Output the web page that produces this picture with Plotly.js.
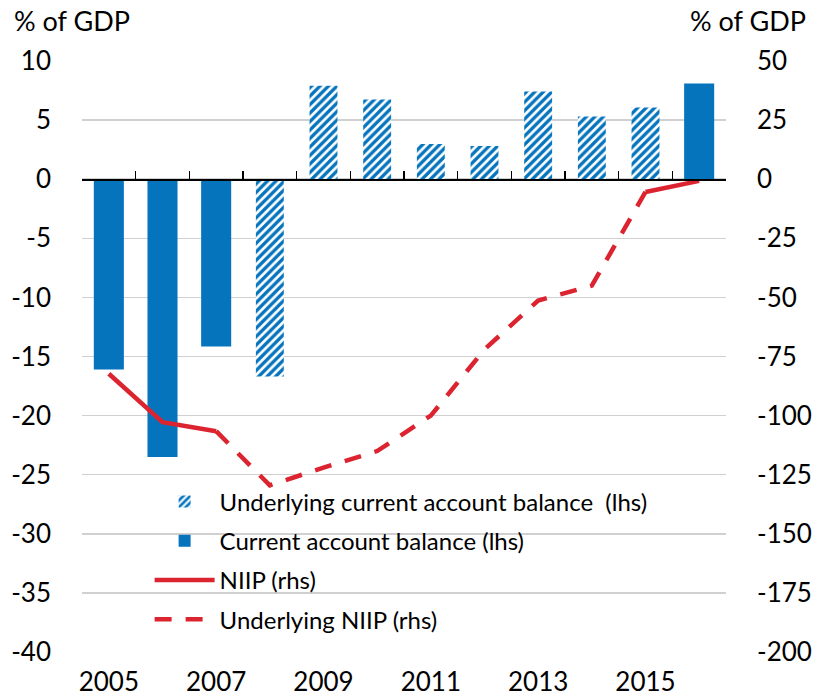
<!DOCTYPE html>
<html>
<head>
<meta charset="utf-8">
<script src="https://cdn.plot.ly/plotly-3.0.1.min.js"></script>
<style>
  html, body { margin: 0; padding: 0; background: #ffffff; }
  #chart { width: 817px; height: 698px; }
</style>
</head>
<body>
<div id="chart"></div>
<script>
// ---- data ----
const years = [2005, 2006, 2007, 2008, 2009, 2010, 2011, 2012, 2013, 2014, 2015, 2016];
const currentAccount = [-16.1, -23.5, -14.15, null, null, null, null, null, null, null, null, 8.1];
const underlyingCurrentAccount = [null, null, null, -16.7, 7.9, 6.75, 2.97, 2.8, 7.43, 5.3, 6.07, null];
const niip = [-82.3, -102.8, -106.6, null, null, null, null, null, null, null, -5.4, -0.7];
const underlyingNiip = [null, null, -106.6, -129.5, -122, -115, -100, -72, -51.3, -45, -5.4, null];
const xTickVals = [2005, 2007, 2009, 2011, 2013, 2015];
const xTickLabels = ['2005', '2007', '2009', '2011', '2013', '2015'];
const leftTickVals = [10, 5, 0, -5, -10, -15, -20, -25, -30, -35, -40];
const leftTickLabels = ['10', '5', '0', '-5', '-10', '-15', '-20', '-25', '-30', '-35', '-40'];
const rightTickVals = [50, 25, 0, -25, -50, -75, -100, -125, -150, -175, -200];
const rightTickLabels = ['50', '25', '0', '-25', '-50', '-75', '-100', '-125', '-150', '-175', '-200'];
const categoryBoundaries = [2004.5, 2005.5, 2006.5, 2007.5, 2008.5, 2009.5, 2010.5, 2011.5, 2012.5, 2013.5, 2014.5, 2015.5, 2016.5];
const names = {
  ucab: 'Underlying current account balance  (lhs)',
  cab: 'Current account balance (lhs)',
  niip: 'NIIP (rhs)',
  uniip: 'Underlying NIIP (rhs)'
};

const BLUE = '#0574BD';
const RED = '#DC2430';
const FONT = 'Lato, "Open Sans", sans-serif';

const traces = [
  {
    type: 'bar', name: names.ucab, x: years, y: underlyingCurrentAccount,
    width: 0.52,
    marker: { color: BLUE, line: { width: 0 },
      pattern: { shape: '/', fgcolor: BLUE, bgcolor: '#ffffff', size: 6, solidity: 0.55, fillmode: 'replace' } },
    legendgroup: 'a', xaxis: 'x', yaxis: 'y'
  },
  {
    type: 'bar', name: names.cab, x: years, y: currentAccount,
    width: 0.56,
    marker: { color: BLUE, line: { width: 0 } },
    legendgroup: 'b', xaxis: 'x', yaxis: 'y'
  },
  {
    type: 'scatter', mode: 'lines', name: names.niip, x: years, y: niip,
    line: { color: RED, width: 4.5 },
    connectgaps: false, legendgroup: 'c', xaxis: 'x', yaxis: 'y2'
  },
  {
    type: 'scatter', mode: 'lines', name: names.uniip, x: years, y: underlyingNiip,
    line: { color: RED, width: 4.5, dash: '17px,14px' },
    connectgaps: false, legendgroup: 'd', xaxis: 'x', yaxis: 'y2'
  },
  {
    // carrier for the zero-crossing category axis (tick marks at boundaries)
    type: 'scatter', mode: 'markers', x: [years[0]], y: [null],
    showlegend: false, hoverinfo: 'skip', xaxis: 'x2', yaxis: 'y'
  }
];

const layout = {
  width: 817, height: 698,
  margin: { l: 82, r: 91, t: 61, b: 46 },
  paper_bgcolor: '#ffffff', plot_bgcolor: '#ffffff',
  font: { family: FONT, size: 26, color: '#000000' },
  barmode: 'overlay',
  showlegend: true,
  hovermode: false,
  xaxis: {
    range: [2004.5, 2016.5],
    tickmode: 'array', tickvals: xTickVals, ticktext: xTickLabels,
    ticks: '', showgrid: false, zeroline: false, showline: false,
    ticklabelstandoff: 12,
    tickfont: { family: FONT, size: 26, color: '#000' },
    fixedrange: true
  },
  xaxis2: {
    overlaying: 'x', anchor: 'free', position: 0.8, side: 'bottom',
    range: [2004.5, 2016.5],
    tickmode: 'array', tickvals: categoryBoundaries,
    ticks: 'inside', ticklen: 8, tickwidth: 1.5, tickcolor: '#000',
    showticklabels: false, showgrid: false, zeroline: false,
    showline: true, linecolor: '#000', linewidth: 1.5,
    fixedrange: true
  },
  yaxis: {
    range: [-40, 10],
    tickmode: 'array', tickvals: leftTickVals, ticktext: leftTickLabels,
    showgrid: true, gridcolor: '#D0D0D0', gridwidth: 1.5,
    zeroline: false, showline: false, ticks: '',
    ticklabelstandoff: 30,
    tickfont: { family: FONT, size: 26, color: '#000' },
    fixedrange: true
  },
  yaxis2: {
    overlaying: 'y', side: 'right', anchor: 'x',
    range: [-200, 50],
    tickmode: 'array', tickvals: rightTickVals, ticktext: rightTickLabels,
    showgrid: false, zeroline: false, showline: false, ticks: '',
    ticklabelstandoff: 30,
    tickfont: { family: FONT, size: 26, color: '#000' },
    fixedrange: true
  },
  legend: {
    x: 0.105, y: 0.292, xanchor: 'left', yanchor: 'top',
    bgcolor: 'rgba(0,0,0,0)', borderwidth: 0,
    font: { family: FONT, size: 24, color: '#000' },
    traceorder: 'grouped', tracegroupgap: 5,
    itemwidth: 60
  },
  annotations: [
    { text: '% of GDP', xref: 'paper', yref: 'paper', x: -0.108, y: 1.1,
      xanchor: 'left', yanchor: 'top', showarrow: false,
      font: { family: FONT, size: 27, color: '#000' } },
    { text: '% of GDP', xref: 'paper', yref: 'paper', x: 1.128, y: 1.1,
      xanchor: 'right', yanchor: 'top', showarrow: false,
      font: { family: FONT, size: 27, color: '#000' } }
  ]
};

Plotly.newPlot('chart', traces, layout, { displayModeBar: false, staticPlot: true });
</script>
</body>
</html>
